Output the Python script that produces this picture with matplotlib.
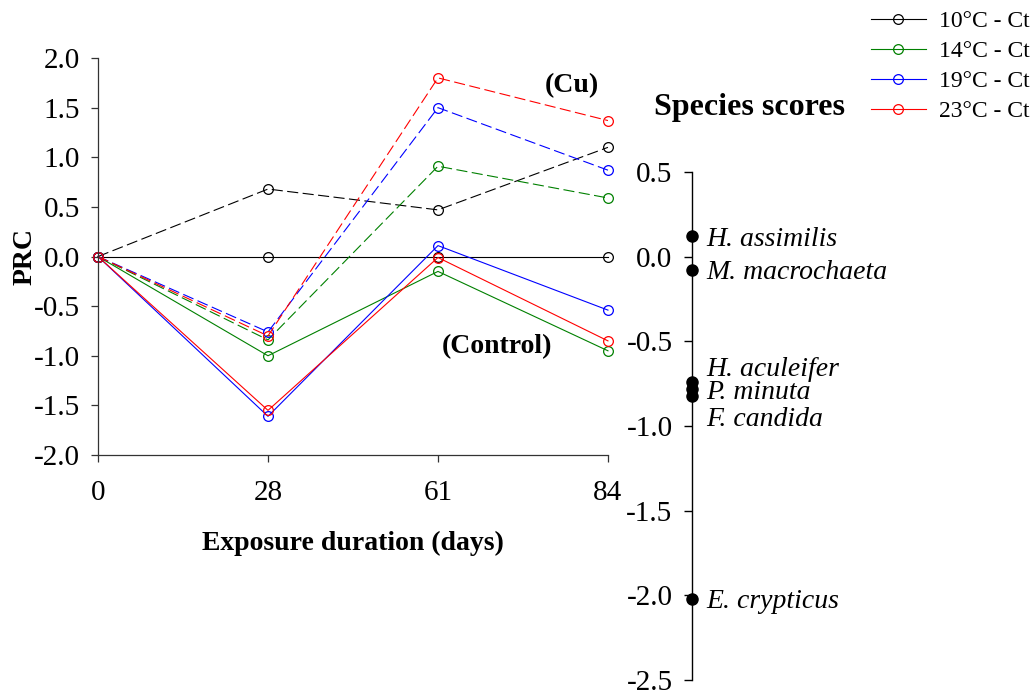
import matplotlib
matplotlib.use("Agg")
import matplotlib.pyplot as plt

plt.rcParams['font.family'] = ['Liberation Serif', 'DejaVu Serif']

# sampling days (drawn as evenly spaced categories)
days = ["0", "28", "61", "84"]
temps = ["10°C - Ct", "14°C - Ct", "19°C - Ct", "23°C - Ct"]
colors = ["black", "#008000", "blue", "red"]

# PRC, control treatment (solid lines)
control = [
    [0.0, 0.0, 0.0, 0.0],
    [0.0, -1.00, -0.15, -0.95],
    [0.0, -1.61, 0.11, -0.54],
    [0.0, -1.55, -0.01, -0.85],
]
# PRC, Cu treatment (dashed lines)
cu = [
    [0.0, 0.68, 0.47, 1.10],
    [0.0, -0.84, 0.91, 0.59],
    [0.0, -0.76, 1.50, 0.87],
    [0.0, -0.80, 1.80, 1.37],
]

species = ["H. assimilis", "M. macrochaeta", "H. aculeifer", "P. minuta",
           "F. candida", "E. crypticus"]
scores = [0.12, -0.08, -0.74, -0.78, -0.82, -2.02]
# label offsets in points so the crowded names don't overlap
label_dy = [-2, -2, 9, -3, -17, -2]

fig = plt.figure(figsize=(10.35, 6.95), dpi=100)

# main PRC panel
ax = fig.add_axes([0.0947, 0.3453, 0.4927, 0.5712])
x = list(range(len(days)))
for i in range(len(temps)):
    ax.plot(x, control[i], color=colors[i], lw=0.8, marker="o", ms=7,
            mfc="none", mew=0.9, clip_on=False, label=temps[i])
for i in range(len(temps)):
    ax.plot(x, cu[i], color=colors[i], lw=0.8, dashes=(10, 4), marker="o",
            ms=7, mfc="none", mew=0.9, clip_on=False)

ax.set_xlim(0, 3)
ax.set_ylim(-2.0, 2.0)
ax.set_xticks(x)
ax.set_xticklabels(days)
ax.set_yticks([-2.0, -1.5, -1.0, -0.5, 0.0, 0.5, 1.0, 1.5, 2.0])
ax.set_yticklabels([f"{v:.1f}" for v in ax.get_yticks()])
ax.spines["top"].set_visible(False)
ax.spines["right"].set_visible(False)
for s in ["left", "bottom"]:
    ax.spines[s].set_color("#333333")
    ax.spines[s].set_linewidth(0.9)
ax.tick_params(axis="both", labelsize=21, length=5, width=0.9,
               color="#333333", direction="out")
ax.tick_params(axis="y", pad=8)
ax.tick_params(axis="x", pad=13)
ax.set_xlabel("Exposure duration (days)", fontsize=20, fontweight="bold",
              labelpad=18)
ax.set_ylabel("PRC", fontsize=20, fontweight="bold", labelpad=-3)

ax.text(2.79, 1.72, "(Cu)", fontsize=20, fontweight="bold",
        ha="center", va="center")
ax.text(2.35, -0.91, "(Control)", fontsize=20, fontweight="bold",
        ha="center", va="center")

# species scores axis
ax2 = fig.add_axes([0.6686, 0.0216, 0.25, 0.7309])
ax2.set_xlim(0, 1)
ax2.set_ylim(-2.5, 0.5)
for s in ["top", "right", "bottom"]:
    ax2.spines[s].set_visible(False)
ax2.spines["left"].set_linewidth(1.0)
ax2.set_xticks([])
ax2.set_yticks([-2.5, -2.0, -1.5, -1.0, -0.5, 0.0, 0.5])
ax2.set_yticklabels([f"{v:.1f}" for v in ax2.get_yticks()])
ax2.tick_params(axis="y", labelsize=21, length=6, width=1.0, pad=8)
ax2.patch.set_alpha(0)
ax2.plot([0] * len(scores), scores, "o", color="black", ms=8, clip_on=False)
for name, v, dy in zip(species, scores, label_dy):
    ax2.annotate(name, (0, v), xytext=(10, dy), textcoords="offset points",
                 fontsize=20, fontstyle="italic", va="center", ha="left")

fig.text(0.7237, 0.846, "Species scores", fontsize=23, fontweight="bold",
         ha="center", va="center")

fig.legend(loc="upper right", bbox_to_anchor=(0.998, 0.99), frameon=False,
           fontsize=17, handlelength=2.3, handletextpad=0.55,
           labelspacing=0.36, borderaxespad=0.0, borderpad=0.15)

fig.savefig("out.png", dpi=100)
